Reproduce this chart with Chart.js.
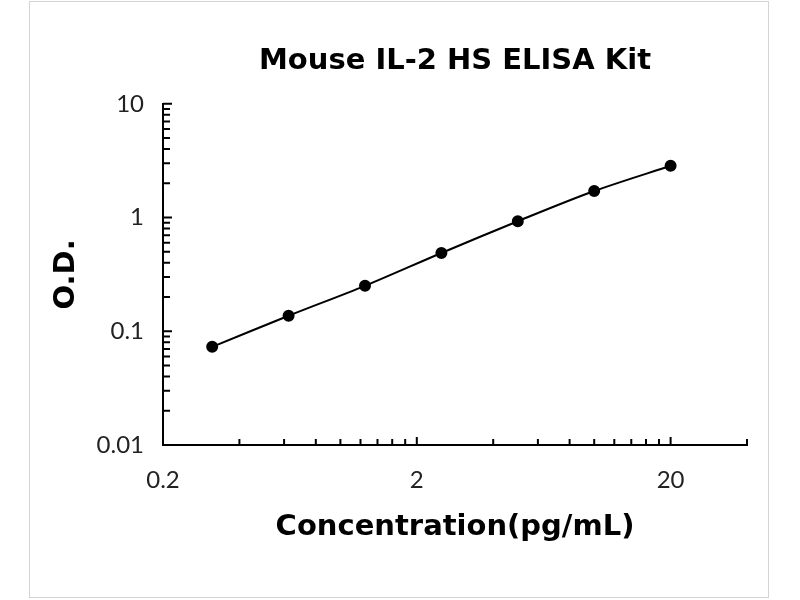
<!DOCTYPE html>
<html lang="en">
<head>
    <meta charset="UTF-8">
    <title>Mouse IL-2 HS ELISA Kit</title>
    <script src="https://cdn.jsdelivr.net/npm/chart.js"></script>
    <style>
        body { margin: 0; background: #fff; }
        #frame {
            position: absolute; left: 29px; top: 1px;
            width: 738px; height: 595px;
            border: 1px solid #d4d4d4;
        }
    </style>
</head>
<body>
    <div id="frame">
        <canvas id="elisaChart"></canvas>
    </div>

    <script>
        // Standard curve values
        const concentrations = [0.3125, 0.625, 1.25, 2.5, 5, 10, 20];
        const odValues = [0.073, 0.137, 0.251, 0.488, 0.928, 1.71, 2.85];

        // Axis ticks (labelled ones and the small unlabelled marks)
        const xLabelTicks = [0.2, 2, 20];
        const xMinorTicks = [0.4, 0.6, 0.8, 1, 1.2, 1.4, 1.6, 1.8,
                             4, 6, 8, 10, 12, 14, 16, 18, 40];
        const yLabelTicks = [0.01, 0.1, 1, 10];
        const yMinorTicks = [0.02, 0.03, 0.04, 0.05, 0.06, 0.07, 0.08, 0.09,
                             0.2, 0.3, 0.4, 0.5, 0.6, 0.7, 0.8, 0.9,
                             2, 3, 4, 5, 6, 7, 8, 9];

        const boldFont = { family: 'DejaVu Sans', size: 29, weight: 'bold' };
        const tickFont = { family: 'Lato', size: 24 };

        // Tick marks drawn inward from the axis lines, like the original
        const inwardTicks = {
            id: 'inwardTicks',
            afterDatasetsDraw(chart) {
                const ctx = chart.ctx;
                const xs = chart.scales.x, ys = chart.scales.y;
                ctx.save();
                ctx.strokeStyle = '#000';
                ctx.lineWidth = 2;
                ctx.beginPath();
                xs.ticks.forEach(t => {
                    const px = xs.getPixelForValue(t.value);
                    const len = xLabelTicks.includes(t.value) ? 8 : 6;
                    ctx.moveTo(px, xs.top);
                    ctx.lineTo(px, xs.top - len);
                });
                ys.ticks.forEach(t => {
                    const py = ys.getPixelForValue(t.value);
                    const len = yLabelTicks.includes(t.value) ? 9 : 7;
                    ctx.moveTo(ys.right, py);
                    ctx.lineTo(ys.right + len, py);
                });
                ctx.stroke();
                ctx.restore();
            }
        };

        const ctx = document.getElementById('elisaChart').getContext('2d');
        new Chart(ctx, {
            type: 'line',
            data: {
                datasets: [{
                    data: concentrations.map((c, i) => ({ x: c, y: odValues[i] })),
                    borderColor: '#000',
                    backgroundColor: '#000',
                    borderWidth: 2,
                    pointRadius: 5,
                    pointBackgroundColor: '#000',
                    pointBorderColor: '#000',
                    tension: 0.3,
                    fill: false
                }]
            },
            options: {
                responsive: true,
                maintainAspectRatio: false,
                animation: false,
                layout: { padding: { left: 0, right: 11, top: 0, bottom: 0 } },
                plugins: {
                    legend: { display: false },
                    tooltip: { enabled: false },
                    title: {
                        display: true,
                        text: 'Mouse IL-2 HS ELISA Kit',
                        color: '#000',
                        font: boldFont,
                        fullSize: false,
                        padding: { top: 42, bottom: 25 }
                    }
                },
                scales: {
                    x: {
                        type: 'logarithmic',
                        min: 0.2,
                        max: 40,
                        afterBuildTicks: scale => {
                            scale.ticks = xLabelTicks.concat(xMinorTicks)
                                .sort((a, b) => a - b)
                                .map(v => ({ value: v }));
                        },
                        afterFit: scale => { scale.height = 152; },
                        grid: { display: false, drawTicks: false },
                        border: { display: true, color: '#000', width: 2 },
                        ticks: {
                            autoSkip: false,
                            maxRotation: 0,
                            padding: 21,
                            color: '#222',
                            font: tickFont,
                            callback: v => xLabelTicks.includes(v) ? String(v) : ''
                        },
                        title: {
                            display: true,
                            text: 'Concentration(pg/mL)',
                            color: '#000',
                            font: boldFont,
                            padding: { top: 0, bottom: 52 }
                        }
                    },
                    y: {
                        type: 'logarithmic',
                        min: 0.01,
                        max: 10,
                        afterBuildTicks: scale => {
                            scale.ticks = yLabelTicks.concat(yMinorTicks)
                                .sort((a, b) => a - b)
                                .map(v => ({ value: v }));
                        },
                        afterFit: scale => { scale.width = 133; },
                        grid: { display: false, drawTicks: false },
                        border: { display: true, color: '#000', width: 2 },
                        ticks: {
                            autoSkip: false,
                            padding: 19,
                            color: '#222',
                            font: tickFont,
                            callback: v => yLabelTicks.includes(v) ? String(v) : ''
                        },
                        title: {
                            display: true,
                            text: 'O.D.',
                            color: '#000',
                            font: boldFont,
                            padding: { top: 19, bottom: 0 }
                        }
                    }
                }
            },
            plugins: [inwardTicks]
        });
    </script>
</body>
</html>
